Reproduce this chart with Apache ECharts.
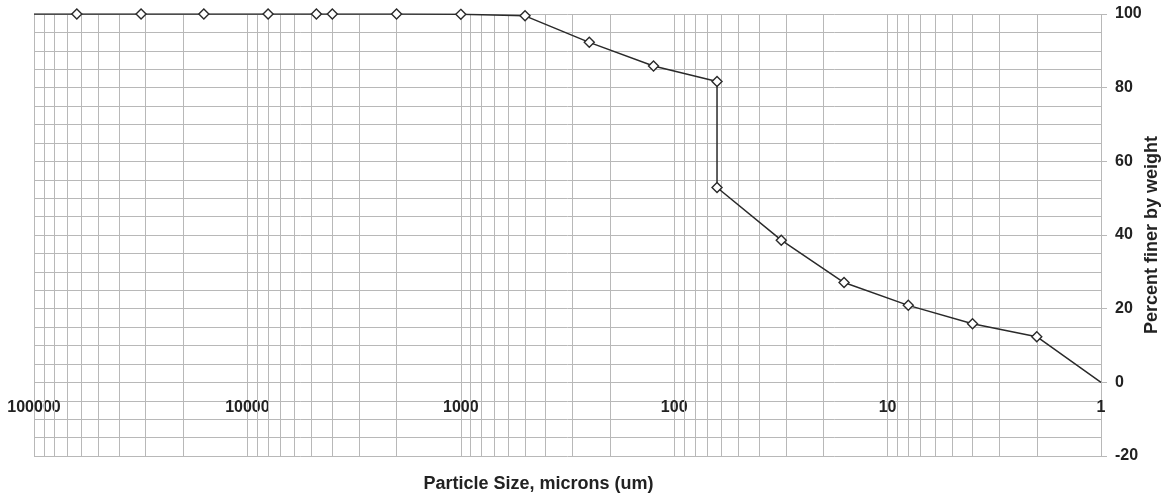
<!DOCTYPE html>
<html>
<head>
<meta charset="utf-8">
<script src="https://cdn.jsdelivr.net/npm/echarts@6/dist/echarts.min.js"></script>
<style>
  html, body { margin: 0; padding: 0; background: #fff; }
  #chart { width: 1166px; height: 497px; }
</style>
</head>
<body>
<div id="chart"></div>
<script>
// Particle size (microns) and cumulative percent finer by weight
const particleSizes = [100000, 63000, 31500, 16000, 8000, 4750, 4000, 2000, 1000, 500, 250, 125, 63, 63, 31.5, 16, 8, 4, 2, 1];
const percentFiner  = [100, 100, 100, 100, 100, 100, 100, 100, 99.9, 99.5, 92.3, 85.9, 81.7, 52.9, 38.6, 27.1, 20.9, 15.9, 12.4, 0];

// log-grid helpers (minor vertical grid lines)
const decades = [1, 10, 100, 1000, 10000];
const gridMultiples = [2, 3, 4, 5, 6, 7, 8, 9];

const xAxisTitle = 'Particle Size, microns (um)';
const yAxisTitle = 'Percent finer by weight';

const gridColor = '#b8b8b8';
const textColor = '#222';

const minorLines = [];
decades.forEach(d => gridMultiples.forEach(m => minorLines.push({ xAxis: d * m })));

const lineData = particleSizes.map((s, i) => {
  const item = { value: [s, percentFiner[i]] };
  if (i === 0 || i === particleSizes.length - 1) item.symbol = 'none';
  return item;
});

const chart = echarts.init(document.getElementById('chart'), null, { renderer: 'canvas' });
chart.setOption({
  animation: false,
  backgroundColor: '#fff',
  grid: { left: 34, right: 65, top: 14, bottom: 41, containLabel: false, outerBoundsMode: 'none' },
  xAxis: {
    type: 'log',
    logBase: 10,
    min: 1,
    max: 100000,
    inverse: true,
    position: 'bottom',
    offset: -74,
    axisLine: { show: false, onZero: false },
    axisTick: { show: false },
    splitLine: { show: true, lineStyle: { color: gridColor, width: 1 } },
    axisLabel: {
      show: true,
      margin: 18,
      color: textColor,
      fontFamily: 'Liberation Sans, Arial, sans-serif',
      fontWeight: 'bold',
      fontSize: 16,
      hideOverlap: false,
      showMinLabel: true,
      showMaxLabel: true,
      formatter: v => String(Math.round(v))
    },
    name: xAxisTitle,
    nameLocation: 'middle',
    nameGap: 93,
    nameMoveOverlap: false,
    nameTextStyle: { color: textColor, fontFamily: 'Liberation Sans, Arial, sans-serif', fontWeight: 'bold', fontSize: 18, padding: [0, 58, 0, 0] }
  },
  yAxis: {
    type: 'value',
    position: 'right',
    min: -20,
    max: 100,
    interval: 20,
    axisLine: { show: false, onZero: false },
    axisTick: { show: true, inside: false, length: 6, lineStyle: { color: gridColor } },
    splitLine: { show: true, lineStyle: { color: gridColor, width: 1 } },
    minorTick: { show: false, splitNumber: 4 },
    minorSplitLine: { show: true, lineStyle: { color: gridColor, width: 1 } },
    axisLabel: {
      margin: 14,
      color: textColor,
      fontFamily: 'Liberation Sans, Arial, sans-serif',
      fontWeight: 'bold',
      fontSize: 16
    },
    name: yAxisTitle,
    nameLocation: 'middle',
    nameRotate: 90,
    nameGap: 42,
    nameMoveOverlap: false,
    nameTextStyle: { color: textColor, fontFamily: 'Liberation Sans, Arial, sans-serif', fontWeight: 'bold', fontSize: 18 }
  },
  series: [
    {
      type: 'line',
      data: [],
      z: 1,
      silent: true,
      markLine: {
        silent: true,
        symbol: 'none',
        label: { show: false },
        lineStyle: { type: 'solid', color: gridColor, width: 1 },
        emphasis: { disabled: true },
        data: minorLines
      }
    },
    {
      type: 'line',
      z: 5,
      data: lineData,
      symbol: 'diamond',
      symbolSize: 10,
      showAllSymbol: true,
      lineStyle: { color: '#2a2a2a', width: 1.5 },
      itemStyle: { color: '#fff', borderColor: '#2a2a2a', borderWidth: 1.4 },
      emphasis: { disabled: true }
    }
  ]
});
</script>
</body>
</html>
